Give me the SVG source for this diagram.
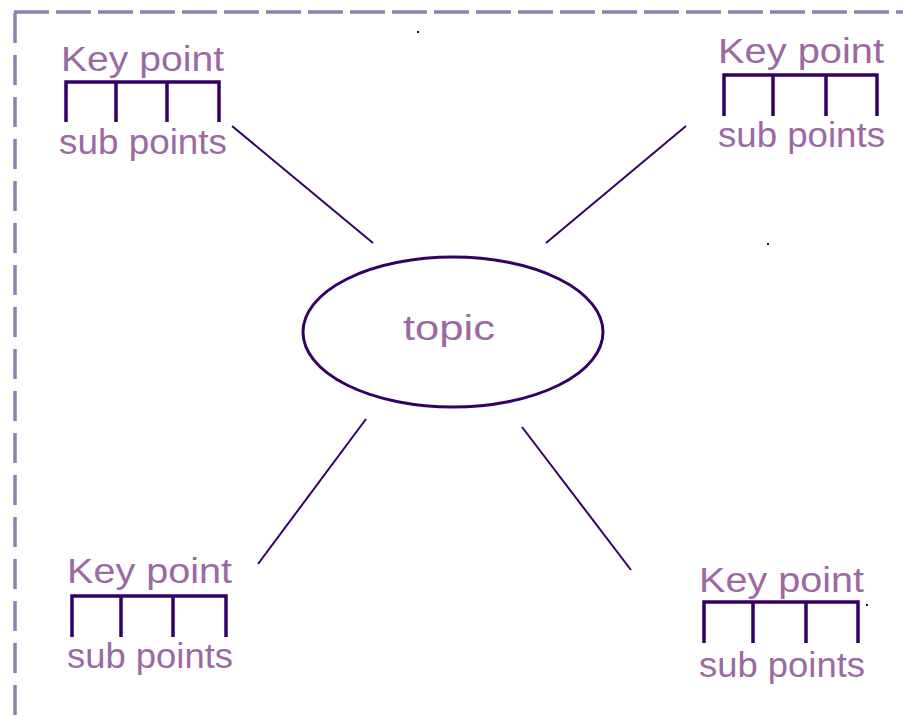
<svg xmlns="http://www.w3.org/2000/svg" width="903" height="716" viewBox="0 0 903 716">
<style>
.frame{fill:none;stroke:#8585b5;stroke-width:3.5}
.br{fill:none;stroke:#330066;stroke-width:3.5;stroke-linecap:butt}
.con{stroke:#330066;stroke-width:2;fill:none}
.t{font-family:"Comic Sans MS","Liberation Sans",sans-serif;fill:#9b6aa2;font-size:35px}
</style>
<rect width="903" height="716" fill="#ffffff"/>
<g id="frame">
<path class="frame" d="M14,12 H903" stroke-dasharray="35 7"/>
<path class="frame" d="M15,12 V716" stroke-dasharray="30 12" stroke-dashoffset="-1"/>
</g>
<g id="connectors">
<line class="con" x1="232" y1="126" x2="373" y2="243"/>
<line class="con" x1="686" y1="126" x2="546" y2="243"/>
<line class="con" x1="366" y1="419" x2="258" y2="564"/>
<line class="con" x1="522" y1="427" x2="631" y2="570"/>
</g>
<g id="topic">
<ellipse cx="453" cy="332" rx="150" ry="75" fill="none" stroke="#330066" stroke-width="3"/>
<text class="t" x="403" y="340" textLength="92" lengthAdjust="spacingAndGlyphs">topic</text>
</g>
<g id="key-tl">
<text class="t" x="61" y="71" textLength="163" lengthAdjust="spacingAndGlyphs">Key point</text>
<path class="br" d="M66,122 V82 H219 V122 M116,82 V122 M167,82 V122"/>
<text class="t" x="59" y="154" textLength="168" lengthAdjust="spacingAndGlyphs">sub points</text>
</g>
<g id="key-tr">
<text class="t" x="718" y="63" textLength="166" lengthAdjust="spacingAndGlyphs">Key point</text>
<path class="br" d="M724,116 V75 H877 V116 M773,75 V116 M826,75 V116"/>
<text class="t" x="718" y="147" textLength="167" lengthAdjust="spacingAndGlyphs">sub points</text>
</g>
<g id="key-bl">
<text class="t" x="67" y="583" textLength="165" lengthAdjust="spacingAndGlyphs">Key point</text>
<path class="br" d="M72,637 V596 H226 V637 M121,596 V637 M173,596 V637"/>
<text class="t" x="67" y="668" textLength="166" lengthAdjust="spacingAndGlyphs">sub points</text>
</g>
<g id="key-br">
<text class="t" x="699" y="592" textLength="165" lengthAdjust="spacingAndGlyphs">Key point</text>
<path class="br" d="M704,643 V602 H858 V643 M753,602 V643 M806,602 V643"/>
<text class="t" x="699" y="677" textLength="166" lengthAdjust="spacingAndGlyphs">sub points</text>
</g>
<g id="specks" fill="#330066">
<rect x="417" y="31" width="2" height="2"/>
<rect x="767" y="243" width="2" height="2"/>
<rect x="866" y="604" width="2" height="2"/>
</g>
</svg>
